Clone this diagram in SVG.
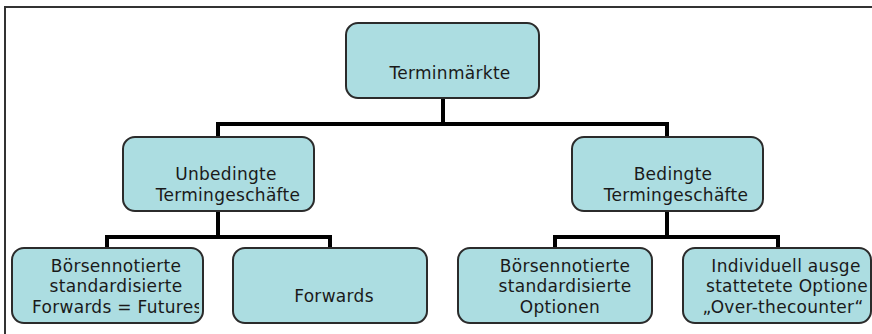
<svg xmlns="http://www.w3.org/2000/svg" width="872" height="334" viewBox="0 0 872 334">
<style>
.box{fill:#acdde1;stroke:#2b2b2b;stroke-width:2}
.t{font-family:"DejaVu Sans","Open Sans",sans-serif;font-size:17px;letter-spacing:0.3px;fill:#1a1a1a;text-anchor:middle}
.c{fill:none;stroke:#000;stroke-width:4;stroke-linejoin:miter}
.frame{fill:none;stroke:#333;stroke-width:2}
</style>
<defs>
<clipPath id="clipA"><rect x="12" y="248" width="187" height="75"/></clipPath>
<clipPath id="clipB"><rect x="683" y="248" width="186" height="75"/></clipPath>
</defs>
<rect width="872" height="334" fill="#fff"/>
<path class="frame" d="M5,334 V7 H872"/>
<g id="connectors">
<path class="c" d="M443,98 V124 M218,137 V124 H667 V137"/>
<path class="c" d="M218,211 V237 M107,248 V237 H330 V248"/>
<path class="c" d="M667,211 V237 M555,248 V237 H778 V248"/>
</g>
<g id="n-terminmaerkte">
<rect class="box" x="346" y="23" width="193" height="75" rx="12"/>
<text class="t" x="450" y="79">Terminmärkte</text>
</g>
<g id="n-unbedingte">
<rect class="box" x="123" y="137" width="191" height="74" rx="12"/>
<text class="t" x="226" y="180">Unbedingte</text>
<text class="t" x="228" y="200.5">Termingeschäfte</text>
</g>
<g id="n-bedingte">
<rect class="box" x="572" y="137" width="191" height="74" rx="12"/>
<text class="t" x="673" y="180">Bedingte</text>
<text class="t" x="676" y="200.5">Termingeschäfte</text>
</g>
<g id="n-futures">
<rect class="box" x="12" y="248" width="191" height="75" rx="12"/>
<g clip-path="url(#clipA)">
<text class="t" x="116" y="271.5">Börsennotierte</text>
<text class="t" x="116" y="292">standardisierte</text>
<text class="t" x="32" y="312.5" style="text-anchor:start">Forwards = Futures</text>
</g>
</g>
<g id="n-forwards">
<rect class="box" x="233" y="248" width="194" height="75" rx="12"/>
<text class="t" x="334" y="302">Forwards</text>
</g>
<g id="n-optionen">
<rect class="box" x="458" y="248" width="194" height="75" rx="12"/>
<text class="t" x="565" y="271.5">Börsennotierte</text>
<text class="t" x="565" y="292">standardisierte</text>
<text class="t" x="560" y="312.5">Optionen</text>
</g>
<g id="n-otc">
<rect class="box" x="683" y="248" width="188" height="75" rx="12"/>
<g clip-path="url(#clipB)">
<text class="t" x="786" y="271.5">Individuell ausge</text>
<text class="t" x="787" y="292">stattetete Optione</text>
<text class="t" x="783" y="312.5">„Over-thecounter“</text>
</g>
</g>
</svg>
